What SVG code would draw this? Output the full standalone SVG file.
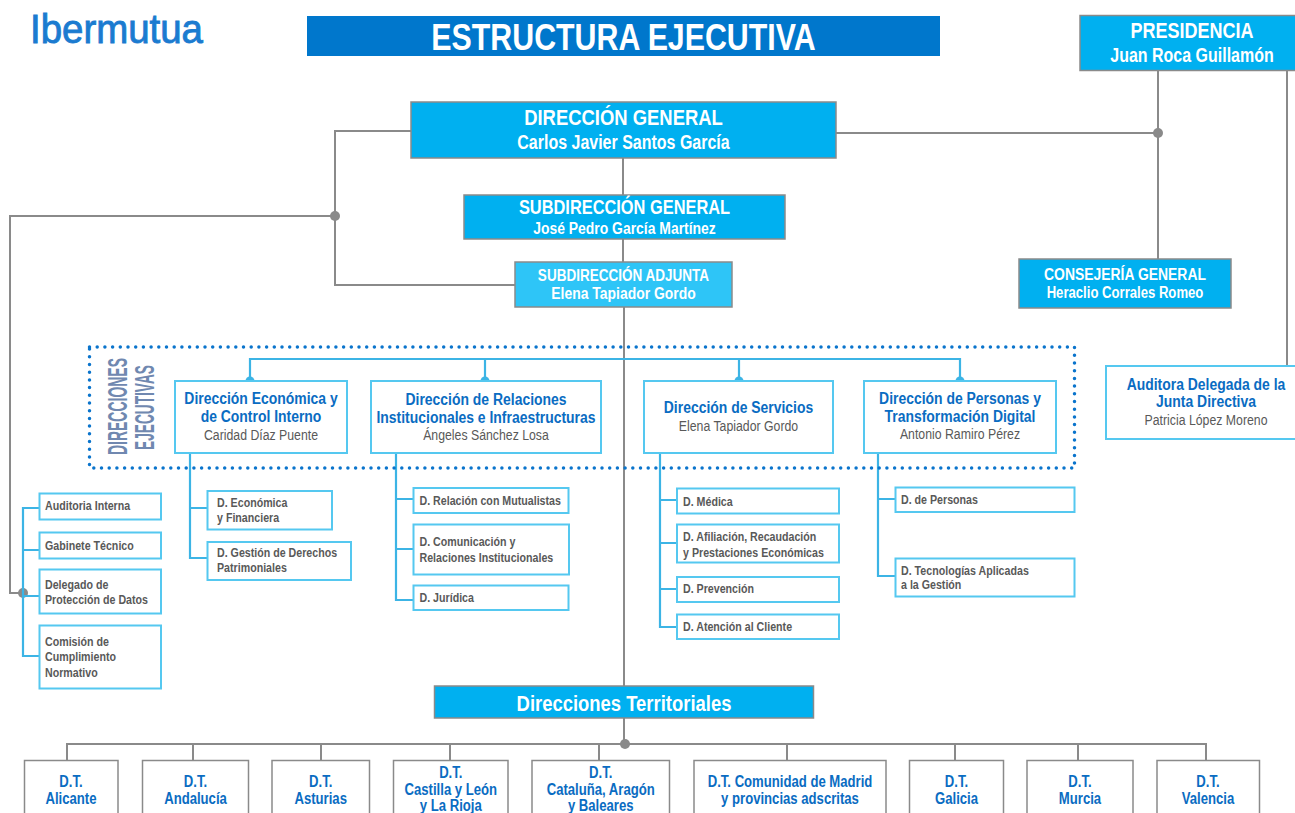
<svg xmlns="http://www.w3.org/2000/svg" width="1295" height="813" viewBox="0 0 1295 813">
<style>
text{font-family:"Liberation Sans",Arial,sans-serif;}
.c{text-anchor:middle;}
.hw{fill:#fff;font-weight:bold;text-anchor:middle;}
.tb{fill:#0a6cc2;font-weight:bold;font-size:17px;text-anchor:middle;}
.nm{fill:#595959;font-size:15px;text-anchor:middle;}
.sb{fill:#595959;font-weight:bold;font-size:13px;}
.dt{fill:#0a6cc2;font-weight:bold;font-size:16px;text-anchor:middle;}
.cy{fill:#00b0f0;stroke:#8a8a8a;stroke-width:1.5;}
.cy2{fill:#2ec5f7;stroke:#8a8a8a;stroke-width:1.5;}
.wb{fill:#fff;stroke:#55c8f0;stroke-width:2;}
.wg{fill:#fff;stroke:#8a8a8a;stroke-width:1.5;}
.gl{fill:none;stroke:#8a8a8a;stroke-width:2;}
.bl{fill:none;stroke:#3cb4e5;stroke-width:2.2;}
.gd{fill:#8a8a8a;}
.bd{fill:#3cb4e5;}
</style>

<g id="logo">
<text x="30" y="43" font-size="41" fill="#1b7bd0" stroke="#1b7bd0" stroke-width="0.9" textLength="173" lengthAdjust="spacingAndGlyphs">Ibermutua</text>
</g>

<g id="title">
<rect x="307" y="16" width="633" height="40" fill="#0077cc"/>
<text transform="matrix(.82 0 0 1 623.5 50)" class="hw" font-size="37">ESTRUCTURA EJECUTIVA</text>
</g>

<g id="connectors">
<path class="gl" d="M836,133 H1158 M1158,71 V259 M1287,71 V366 M623,158 V195 M623,239 V262 M411,131 H335 V285 H515 M335,216 H10 V593 H23 M624,307 V686 M624,718 V744 M67,761 V744 H1206 V761 M193,744 V761 M321,744 V761 M450,744 V761 M599,744 V761 M787,744 V761 M955,744 V761 M1078,744 V761"/>
<circle class="gd" cx="1158" cy="133" r="5"/>
<circle class="gd" cx="335" cy="216" r="5"/>
<circle class="gd" cx="23" cy="593" r="5"/>
<circle class="gd" cx="625" cy="744" r="5"/>
<path class="bl" d="M250,381 V359 H960 V381 M485,359 V381 M739,359 V381"/>
<circle class="bd" cx="250" cy="381" r="4.5"/>
<circle class="bd" cx="485" cy="381" r="4.5"/>
<circle class="bd" cx="739" cy="381" r="4.5"/>
<circle class="bd" cx="960" cy="381" r="4.5"/>
<path class="bl" d="M40,508 H23 V656 H40 M23,550 H40 M23,596 H40"/>
<path class="bl" d="M190,453 V558 H207 M190,508 H207"/>
<path class="bl" d="M396,453 V600 H413 M396,499 H413 M396,549 H413"/>
<path class="bl" d="M660,453 V627 H677 M660,500 H677 M660,543 H677 M660,589 H677"/>
<path class="bl" d="M878,453 V576 H895 M878,499 H895"/>
</g>

<g id="direcciones-ejecutivas-frame">
<rect x="89.5" y="347" width="985" height="121" fill="none" stroke="#0a74cc" stroke-width="3.5" stroke-dasharray="0 7.7" stroke-linecap="round"/>
<text transform="translate(126.5,406.5) rotate(-90)" class="c" font-size="28" font-weight="bold" fill="#7088b0" textLength="97" lengthAdjust="spacingAndGlyphs">DIRECCIONES</text>
<text transform="translate(154,407.5) rotate(-90)" class="c" font-size="28" font-weight="bold" fill="#7088b0" textLength="85" lengthAdjust="spacingAndGlyphs">EJECUTIVAS</text>
</g>

<g id="presidencia">
<rect class="cy" x="1080" y="15.5" width="220" height="55"/>
<text transform="matrix(.82 0 0 1 1192 38)" class="hw" font-size="22">PRESIDENCIA</text>
<text transform="matrix(.82 0 0 1 1192 62)" class="hw" font-size="19.5">Juan Roca Guillamón</text>
</g>

<g id="direccion-general">
<rect class="cy" x="411" y="102" width="425" height="56"/>
<text transform="matrix(.82 0 0 1 623.5 125)" class="hw" font-size="22.5">DIRECCIÓN GENERAL</text>
<text transform="matrix(.82 0 0 1 623.5 149)" class="hw" font-size="19.5">Carlos Javier Santos García</text>
</g>

<g id="subdireccion-general">
<rect class="cy" x="464" y="195" width="321" height="44"/>
<text transform="matrix(.82 0 0 1 624.5 214)" class="hw" font-size="20">SUBDIRECCIÓN GENERAL</text>
<text transform="matrix(.82 0 0 1 624.5 234)" class="hw" font-size="17">José Pedro García Martínez</text>
</g>

<g id="subdireccion-adjunta">
<rect class="cy2" x="515" y="262" width="217" height="45"/>
<text transform="matrix(.82 0 0 1 623.5 281)" class="hw" font-size="16.5">SUBDIRECCIÓN ADJUNTA</text>
<text transform="matrix(.82 0 0 1 623.5 298.5)" class="hw" font-size="17">Elena Tapiador Gordo</text>
</g>

<g id="consejeria-general">
<rect class="cy" x="1019" y="259" width="212" height="49"/>
<text transform="matrix(.82 0 0 1 1125 280)" class="hw" font-size="17">CONSEJERÍA GENERAL</text>
<text transform="matrix(.82 0 0 1 1125 297.5)" class="hw" font-size="16">Heraclio Corrales Romeo</text>
</g>

<g id="auditora-delegada">
<rect class="wb" x="1106" y="366" width="200" height="73"/>
<text transform="matrix(.82 0 0 1 1206 390)" class="tb">Auditora Delegada de la</text>
<text transform="matrix(.82 0 0 1 1206 407)" class="tb">Junta Directiva</text>
<text transform="matrix(.82 0 0 1 1206 425)" class="nm">Patricia López Moreno</text>
</g>

<g id="dir-economica">
<rect class="wb" x="175" y="381" width="172" height="72"/>
<text transform="matrix(.82 0 0 1 261 404)" class="tb">Dirección Económica y</text>
<text transform="matrix(.82 0 0 1 261 422)" class="tb">de Control Interno</text>
<text transform="matrix(.82 0 0 1 261 439.5)" class="nm">Caridad Díaz Puente</text>
</g>

<g id="dir-relaciones">
<rect class="wb" x="371" y="381" width="230" height="72"/>
<text transform="matrix(.82 0 0 1 486 405)" class="tb">Dirección de Relaciones</text>
<text transform="matrix(.82 0 0 1 486 423)" class="tb">Institucionales e Infraestructuras</text>
<text transform="matrix(.82 0 0 1 486 440)" class="nm">Ángeles Sánchez Losa</text>
</g>

<g id="dir-servicios">
<rect class="wb" x="644" y="381" width="189" height="72"/>
<text transform="matrix(.82 0 0 1 738.5 413)" class="tb">Dirección de Servicios</text>
<text transform="matrix(.82 0 0 1 738.5 431)" class="nm">Elena Tapiador Gordo</text>
</g>

<g id="dir-personas">
<rect class="wb" x="864" y="381" width="192" height="72"/>
<text transform="matrix(.82 0 0 1 960 404)" class="tb">Dirección de Personas y</text>
<text transform="matrix(.82 0 0 1 960 422)" class="tb">Transformación Digital</text>
<text transform="matrix(.82 0 0 1 960 439)" class="nm">Antonio Ramiro Pérez</text>
</g>

<g id="auditoria-interna">
<rect class="wb" x="39.5" y="493.5" width="121.5" height="26"/>
<text transform="matrix(.82 0 0 1 45 510)" class="sb">Auditoria Interna</text>
</g>
<g id="gabinete-tecnico">
<rect class="wb" x="39.5" y="532.5" width="121.5" height="26"/>
<text transform="matrix(.82 0 0 1 45 549.5)" class="sb">Gabinete Técnico</text>
</g>
<g id="delegado-proteccion-datos">
<rect class="wb" x="39.5" y="569.5" width="121.5" height="44"/>
<text transform="matrix(.82 0 0 1 45 588.5)" class="sb">Delegado de</text>
<text transform="matrix(.82 0 0 1 45 604)" class="sb">Protección de Datos</text>
</g>
<g id="comision-cumplimiento">
<rect class="wb" x="39.5" y="625.5" width="121.5" height="63"/>
<text transform="matrix(.82 0 0 1 45 645.5)" class="sb">Comisión de</text>
<text transform="matrix(.82 0 0 1 45 661)" class="sb">Cumplimiento</text>
<text transform="matrix(.82 0 0 1 45 676.5)" class="sb">Normativo</text>
</g>

<g id="d-economica-financiera">
<rect class="wb" x="207.5" y="491" width="124.5" height="38.5"/>
<text transform="matrix(.82 0 0 1 217 506.5)" class="sb">D. Económica</text>
<text transform="matrix(.82 0 0 1 217 522)" class="sb">y Financiera</text>
</g>
<g id="d-gestion-derechos">
<rect class="wb" x="207.5" y="542" width="143.5" height="38"/>
<text transform="matrix(.82 0 0 1 217 556.5)" class="sb">D. Gestión de Derechos</text>
<text transform="matrix(.82 0 0 1 217 572)" class="sb">Patrimoniales</text>
</g>

<g id="d-relacion-mutualistas">
<rect class="wb" x="413.5" y="488" width="155" height="25"/>
<text transform="matrix(.82 0 0 1 419.5 505)" class="sb">D. Relación con Mutualistas</text>
</g>
<g id="d-comunicacion">
<rect class="wb" x="413.5" y="524.5" width="155.5" height="50"/>
<text transform="matrix(.82 0 0 1 419.5 546)" class="sb">D. Comunicación y</text>
<text transform="matrix(.82 0 0 1 419.5 562)" class="sb">Relaciones Institucionales</text>
</g>
<g id="d-juridica">
<rect class="wb" x="413.5" y="585.5" width="155" height="24.5"/>
<text transform="matrix(.82 0 0 1 419.5 602)" class="sb">D. Jurídica</text>
</g>

<g id="d-medica">
<rect class="wb" x="677" y="488.5" width="162" height="25"/>
<text transform="matrix(.82 0 0 1 683 505.5)" class="sb">D. Médica</text>
</g>
<g id="d-afiliacion">
<rect class="wb" x="677" y="524.5" width="162" height="38"/>
<text transform="matrix(.82 0 0 1 683 540.5)" class="sb">D. Afiliación, Recaudación</text>
<text transform="matrix(.82 0 0 1 683 556.5)" class="sb">y Prestaciones Económicas</text>
</g>
<g id="d-prevencion">
<rect class="wb" x="677" y="577" width="162" height="25"/>
<text transform="matrix(.82 0 0 1 683 593)" class="sb">D. Prevención</text>
</g>
<g id="d-atencion-cliente">
<rect class="wb" x="677" y="614.5" width="162" height="24.5"/>
<text transform="matrix(.82 0 0 1 683 630.5)" class="sb">D. Atención al Cliente</text>
</g>

<g id="d-personas">
<rect class="wb" x="895.5" y="487.5" width="179" height="24.5"/>
<text transform="matrix(.82 0 0 1 901 504)" class="sb">D. de Personas</text>
</g>
<g id="d-tecnologias">
<rect class="wb" x="895.5" y="558.5" width="179" height="38"/>
<text transform="matrix(.82 0 0 1 901 574.5)" class="sb">D. Tecnologías Aplicadas</text>
<text transform="matrix(.82 0 0 1 901 588.5)" class="sb">a la Gestión</text>
</g>

<g id="direcciones-territoriales">
<rect class="cy" x="434.5" y="686" width="379" height="32"/>
<text transform="matrix(.82 0 0 1 624 711)" class="hw" font-size="22.5">Direcciones Territoriales</text>
</g>

<g id="dt-alicante">
<rect class="wg" x="24.5" y="760.5" width="93.5" height="60"/>
<text transform="matrix(.82 0 0 1 71 787)" class="dt">D.T.</text>
<text transform="matrix(.82 0 0 1 71 804)" class="dt">Alicante</text>
</g>
<g id="dt-andalucia">
<rect class="wg" x="142.5" y="760.5" width="106" height="60"/>
<text transform="matrix(.82 0 0 1 195.5 787)" class="dt">D.T.</text>
<text transform="matrix(.82 0 0 1 195.5 804)" class="dt">Andalucía</text>
</g>
<g id="dt-asturias">
<rect class="wg" x="272" y="760.5" width="97.5" height="60"/>
<text transform="matrix(.82 0 0 1 320.7 787)" class="dt">D.T.</text>
<text transform="matrix(.82 0 0 1 320.7 804)" class="dt">Asturias</text>
</g>
<g id="dt-castilla">
<rect class="wg" x="393.5" y="760.5" width="114.5" height="60"/>
<text transform="matrix(.82 0 0 1 450.8 778)" class="dt">D.T.</text>
<text transform="matrix(.82 0 0 1 450.8 795)" class="dt">Castilla y León</text>
<text transform="matrix(.82 0 0 1 450.8 811)" class="dt">y La Rioja</text>
</g>
<g id="dt-cataluna">
<rect class="wg" x="532" y="760.5" width="137.5" height="60"/>
<text transform="matrix(.82 0 0 1 600.7 778)" class="dt">D.T.</text>
<text transform="matrix(.82 0 0 1 600.7 795)" class="dt">Cataluña, Aragón</text>
<text transform="matrix(.82 0 0 1 600.7 811)" class="dt">y Baleares</text>
</g>
<g id="dt-madrid">
<rect class="wg" x="694" y="760.5" width="192" height="60"/>
<text transform="matrix(.82 0 0 1 790 786.5)" class="dt">D.T. Comunidad de Madrid</text>
<text transform="matrix(.82 0 0 1 790 803.5)" class="dt">y provincias adscritas</text>
</g>
<g id="dt-galicia">
<rect class="wg" x="909.5" y="760.5" width="94" height="60"/>
<text transform="matrix(.82 0 0 1 956.5 787)" class="dt">D.T.</text>
<text transform="matrix(.82 0 0 1 956.5 804)" class="dt">Galicia</text>
</g>
<g id="dt-murcia">
<rect class="wg" x="1027" y="760.5" width="106" height="60"/>
<text transform="matrix(.82 0 0 1 1080 787)" class="dt">D.T.</text>
<text transform="matrix(.82 0 0 1 1080 804)" class="dt">Murcia</text>
</g>
<g id="dt-valencia">
<rect class="wg" x="1157" y="760.5" width="102.5" height="60"/>
<text transform="matrix(.82 0 0 1 1208 787)" class="dt">D.T.</text>
<text transform="matrix(.82 0 0 1 1208 804)" class="dt">Valencia</text>
</g>
</svg>
